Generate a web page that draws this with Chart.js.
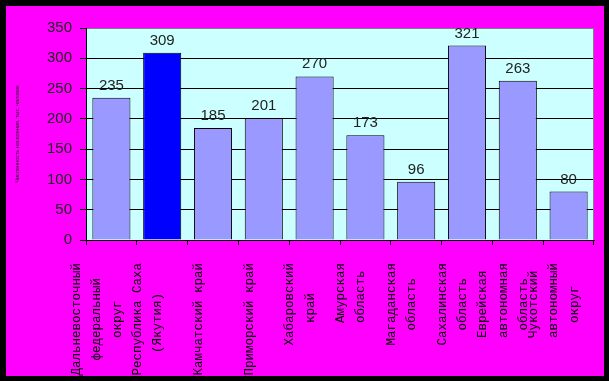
<!DOCTYPE html>
<html>
<head>
<meta charset="utf-8">
<script src="https://cdn.jsdelivr.net/npm/chart.js@4/dist/chart.umd.min.js"></script>
<style>
  html, body { margin: 0; padding: 0; background: #000; }
  #frame { position: absolute; left: 6px; top: 6px; width: 598px; height: 370px; background: #ff00ff; overflow: hidden; }
  canvas { display: block; }
</style>
</head>
<body>
<div id="frame"><canvas id="chart" width="598" height="370"></canvas></div>
<script>
const categories = [
  ['Дальневосточный', 'федеральный', 'округ'],
  ['Республика Саха', '(Якутия)'],
  ['Камчатский край'],
  ['Приморский край'],
  ['Хабаровский', 'край'],
  ['Амурская', 'область'],
  ['Магаданская', 'область'],
  ['Сахалинская', 'область'],
  ['Еврейская', 'автономная', 'область'],
  ['Чукотский', 'автономный', 'округ']
];
const values = [235, 309, 185, 201, 270, 173, 96, 321, 263, 80];
const highlighted = 1;
const yMax = 350;
const yStep = 50;
const yTitle = 'Численность населения, тыс. человек';

// pad lines to the same width (mono font) and space them so blocks sit centred
function tickLines(lines) {
  const w = Math.max(...lines.map(l => l.length));
  const out = [];
  for (let k = lines.length; k < 3; k++) out.push('');
  lines.forEach((l, i) => {
    const extra = w - l.length, left = Math.floor(extra / 2);
    if (i) out.push('');
    out.push(' '.repeat(left) + l + ' '.repeat(extra - left));
  });
  return out;
}

const plotBg = {
  id: 'plotBg',
  beforeDraw(chart) {
    const { ctx, chartArea: a } = chart;
    ctx.save();
    ctx.fillStyle = '#ccffff';
    ctx.fillRect(a.left, a.top, a.right - a.left, a.bottom - a.top);
    ctx.restore();
  },
  beforeDatasetsDraw(chart) {
    const { ctx, chartArea: a } = chart;
    ctx.save();
    ctx.strokeStyle = '#808080';
    ctx.lineWidth = 1;
    ctx.beginPath();
    ctx.moveTo(Math.round(a.right) - 0.5, a.top);
    ctx.lineTo(Math.round(a.right) - 0.5, a.bottom);
    ctx.stroke();
    ctx.restore();
  }
};

const valueLabels = {
  id: 'valueLabels',
  afterDatasetsDraw(chart) {
    const { ctx } = chart;
    const meta = chart.getDatasetMeta(0);
    ctx.save();
    ctx.font = '15px Arial, "Liberation Sans", sans-serif';
    ctx.fillStyle = '#222';
    ctx.textAlign = 'center';
    ctx.textBaseline = 'alphabetic';
    meta.data.forEach((bar, i) => {
      ctx.fillText(String(values[i]), bar.x, bar.y - 8);
    });
    ctx.restore();
  }
};

new Chart(document.getElementById('chart'), {
  type: 'bar',
  data: {
    labels: categories.map(c => c.join(' ')),
    datasets: [{
      data: values,
      backgroundColor: values.map((v, i) => i === highlighted ? '#0000ff' : '#9999ff'),
      borderColor: '#000',
      borderWidth: 1,
      barPercentage: 0.75,
      categoryPercentage: 1
    }]
  },
  options: {
    responsive: false,
    animation: false,
    layout: { padding: { top: 22, right: 10, left: 0, bottom: 0 } },
    plugins: { legend: { display: false }, tooltip: { enabled: false } },
    scales: {
      x: {
        grid: { color: '#000', drawOnChartArea: false, tickLength: 5 },
        border: { color: '#000' },
        ticks: {
          autoSkip: false,
          minRotation: 90,
          maxRotation: 90,
          padding: 18,
          labelOffset: -35,
          color: '#000',
          font: { family: '"Liberation Mono", "DejaVu Sans Mono", monospace', size: 12.5, lineHeight: 10.25 / 12.5 },
          callback: (v, i) => tickLines(categories[i])
        },
        afterFit(scale) {
          scale.height = 136;
          scale.paddingLeft = 0; scale.paddingRight = 0;
          scale.paddingTop = 0; scale.paddingBottom = 0;
        }
      },
      y: {
        min: 0,
        max: yMax,
        ticks: {
          stepSize: yStep,
          padding: 8,
          color: '#222',
          font: { family: 'Arial, "Liberation Sans", sans-serif', size: 15 }
        },
        grid: {
          color: c => c.tick && c.tick.value === yMax ? '#808080' : '#000',
          tickColor: '#000',
          tickLength: 6
        },
        border: { color: '#000' },
        title: {
          display: true,
          text: yTitle,
          color: '#222',
          font: { family: 'Arial, "Liberation Sans", sans-serif', size: 5.5 },
          padding: { top: 8, bottom: 0 }
        },
        afterFit(scale) {
          scale.width = 80;
          scale.paddingTop = 0; scale.paddingBottom = 0;
        }
      }
    }
  },
  plugins: [plotBg, valueLabels]
});
</script>
</body>
</html>
